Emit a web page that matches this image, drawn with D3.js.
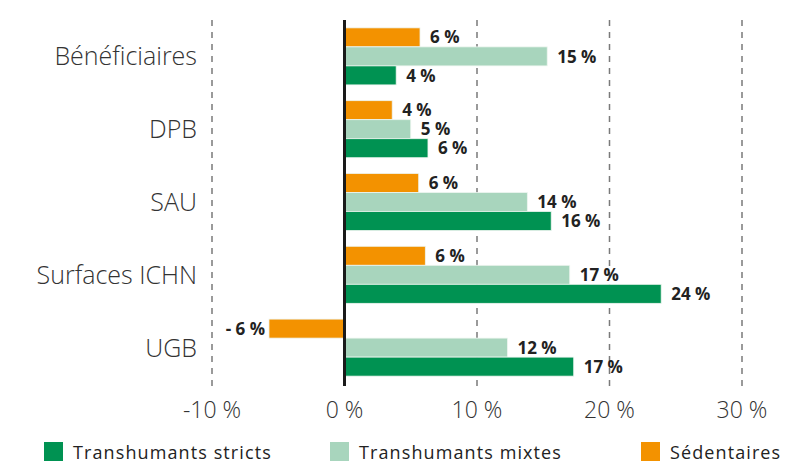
<!DOCTYPE html>
<html>
<head>
<meta charset="utf-8">
<script src="https://cdn.jsdelivr.net/npm/d3@7"></script>
<style>
  body { margin: 0; background: #fff; }
  svg { display: block; font-family: "Open Sans", sans-serif; }
</style>
</head>
<body>
<div id="chart"></div>
<script>
var categories = ["Bénéficiaires", "DPB", "SAU", "Surfaces ICHN", "UGB"];
var series = ["Sédentaires", "Transhumants mixtes", "Transhumants stricts"];
var sedentaires = [5.7, 3.6, 5.6, 6.1, -5.7];
var mixtes = [15.3, 5.0, 13.8, 17.0, 12.3];
var stricts = [3.9, 6.3, 15.6, 23.9, 17.3];
var ticks = [-10, 0, 10, 20, 30];
var legendOrder = ["Transhumants stricts", "Transhumants mixtes", "Sédentaires"];

var colors = {
	"Sédentaires": "#f39200",
	"Transhumants mixtes": "#a8d5bd",
	"Transhumants stricts": "#009252"
};
var values = {
	"Sédentaires": sedentaires,
	"Transhumants mixtes": mixtes,
	"Transhumants stricts": stricts
};

var w = 800,
	h = 474;

var svg = d3.select("#chart").append("svg").attr("width", w).attr("height", h);

var x = d3.scaleLinear().domain([-10, 30]).range([212, 742]);
var y = d3.scaleBand().domain(categories).range([20, 384]).paddingInner(0.2165).paddingOuter(0.108);
var ySub = d3.scaleBand().domain(series).range([0, y.bandwidth()]);

// dashed grid
svg.append("g").selectAll("line").data(ticks.filter(function(d) { return d != 0; }))
	.enter().append("line")
	.attr("x1", function(d) { return x(d); }).attr("x2", function(d) { return x(d); })
	.attr("y1", 20).attr("y2", 386)
	.attr("stroke", "#7a7a7a").attr("stroke-width", 1.5).attr("stroke-dasharray", "6,6");

// bars
var rows = [];
categories.forEach(function(c, i) {
	series.forEach(function(s) {
		rows.push({ cat: c, s: s, v: values[s][i] });
	});
});

var bars = svg.append("g");
bars.selectAll("rect").data(rows).enter().append("rect")
	.attr("x", function(d) { return x(Math.min(0, d.v)); })
	.attr("y", function(d) { return y(d.cat) + ySub(d.s); })
	.attr("width", function(d) { return Math.abs(x(d.v) - x(0)); })
	.attr("height", ySub.bandwidth())
	.attr("fill", function(d) { return colors[d.s]; })
	.attr("stroke", "#eef6f0").attr("stroke-width", 0.8);

bars.selectAll("text").data(rows).enter().append("text")
	.attr("x", function(d) { return d.v < 0 ? x(d.v) - 4 : x(d.v) + 10; })
	.attr("y", function(d) { return y(d.cat) + ySub(d.s) + ySub.bandwidth() / 2; })
	.attr("dy", "0.36em")
	.attr("text-anchor", function(d) { return d.v < 0 ? "end" : "start"; })
	.attr("font-size", 17).attr("font-weight", "bold").attr("fill", "#222")
	.text(function(d) {
		var r = Math.round(d.v);
		return r < 0 ? "- " + Math.abs(r) + " %" : r + " %";
	});

// zero line
svg.append("line").attr("x1", x(0)).attr("x2", x(0)).attr("y1", 20).attr("y2", 386)
	.attr("stroke", "#1a1a1a").attr("stroke-width", 3);

// category labels
svg.append("g").selectAll("text").data(categories).enter().append("text")
	.attr("x", 197)
	.attr("y", function(d) { return y(d) + y.bandwidth() / 2; })
	.attr("dy", "0.36em")
	.attr("text-anchor", "end")
	.attr("font-size", 25).attr("font-weight", 300).attr("fill", "#333")
	.text(function(d) { return d; });

// x tick labels
svg.append("g").selectAll("text").data(ticks).enter().append("text")
	.attr("x", function(d) { return x(d); })
	.attr("y", 418)
	.attr("text-anchor", "middle")
	.attr("font-size", 23).attr("font-weight", 300).attr("fill", "#333")
	.text(function(d) { return d + " %"; });

// legend
var legendX = [44, 330, 641];
var lg = svg.append("g").selectAll("g").data(legendOrder).enter().append("g")
	.attr("transform", function(d, i) { return "translate(" + legendX[i] + ",442)"; });
lg.append("rect").attr("width", 19).attr("height", 19).attr("fill", function(d) { return colors[d]; });
lg.append("text").attr("x", 29).attr("y", 17)
	.attr("font-size", 18).attr("letter-spacing", 1.1).attr("fill", "#222")
	.text(function(d) { return d; });
</script>
</body>
</html>
